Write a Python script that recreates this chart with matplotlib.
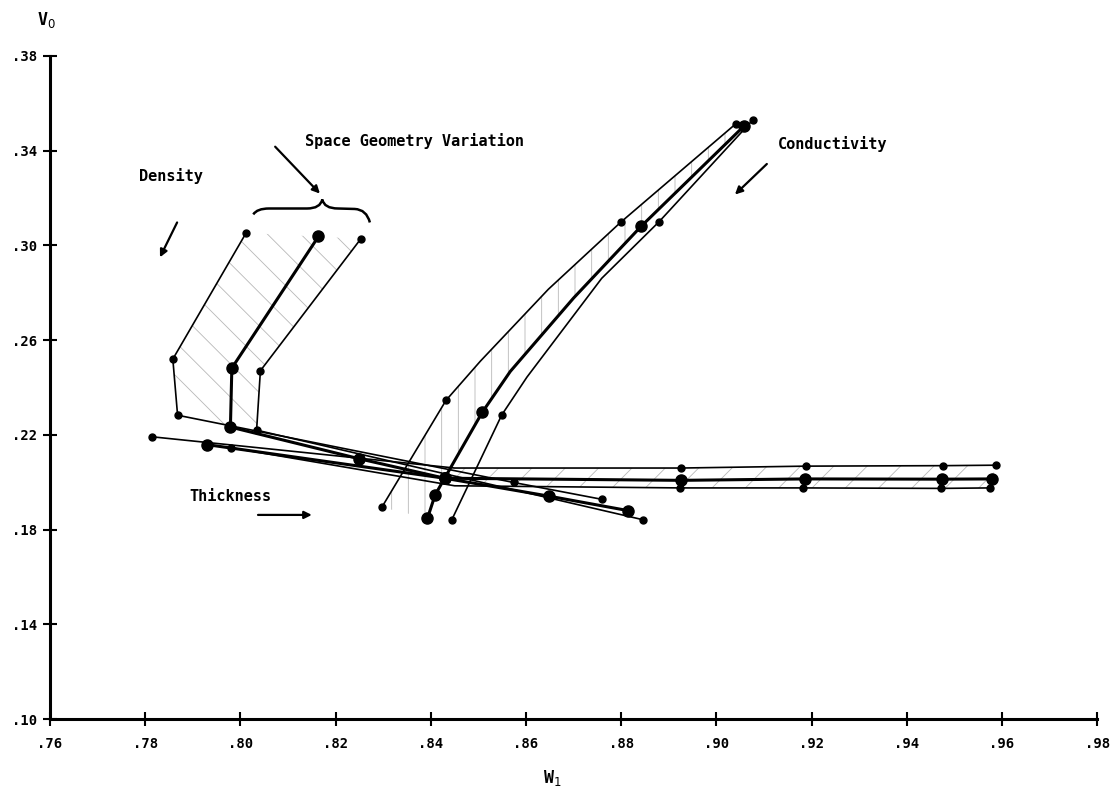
import numpy as np
import matplotlib.pyplot as plt
from matplotlib.path import Path
from matplotlib.patches import PathPatch, Polygon

# ---- data (W1 on x, V0 on y) ----
# density family: three space geometries
dens_a_w = [0.8012, 0.7858, 0.7868, 0.8574, 0.8759]
dens_a_v = [0.3053, 0.2520, 0.2283, 0.1999, 0.1928]
dens_b_w = [0.8164, 0.7982, 0.7979, 0.8250, 0.8429, 0.8649, 0.8815]
dens_b_v = [0.3038, 0.2482, 0.2233, 0.2099, 0.2017, 0.1941, 0.1880]
dens_c_w = [0.8253, 0.8042, 0.8034, 0.8845]
dens_c_v = [0.3028, 0.2471, 0.2220, 0.1842]

# thickness family
thick_a_w = [0.7814, 0.8450, 0.8926, 0.9189, 0.9476, 0.9587]
thick_a_v = [0.2192, 0.2060, 0.2060, 0.2068, 0.2070, 0.2072]
thick_b_w = [0.7929, 0.8429, 0.8926, 0.9186, 0.9474, 0.9579]
thick_b_v = [0.2159, 0.2017, 0.2008, 0.2014, 0.2013, 0.2014]
thick_c_w = [0.7980, 0.8450, 0.8924, 0.9183, 0.9472, 0.9574]
thick_c_v = [0.2146, 0.1985, 0.1976, 0.1976, 0.1974, 0.1976]

# conductivity family
cond_a_w = [0.8297, 0.8432, 0.8504, 0.8647, 0.8799, 0.9041]
cond_a_v = [0.1894, 0.2346, 0.2511, 0.2815, 0.3098, 0.3514]
cond_b_w = [0.8393, 0.8409, 0.8429, 0.8508, 0.8567, 0.8700, 0.8842, 0.9059]
cond_b_v = [0.1848, 0.1946, 0.2017, 0.2295, 0.2468, 0.2778, 0.3081, 0.3506]
cond_c_w = [0.8444, 0.8549, 0.8602, 0.8759, 0.8880, 0.9077]
cond_c_v = [0.1841, 0.2284, 0.2444, 0.2861, 0.3101, 0.3531]

x_ticks = [0.76, 0.78, 0.80, 0.82, 0.84, 0.86, 0.88, 0.90, 0.92, 0.94, 0.96, 0.98]
y_ticks = [0.10, 0.14, 0.18, 0.22, 0.26, 0.30, 0.34, 0.38]

MONO = 'DejaVu Sans Mono'
plt.rcParams['hatch.linewidth'] = 0.6

fig = plt.figure(figsize=(11.14, 8.08), dpi=100)
ax = fig.add_axes([0.0449, 0.1101, 0.9400, 0.8206])
ax.set_xlim(0.76, 0.98)
ax.set_ylim(0.10, 0.38)

# faint hatching inside the bands
hatch_kw = dict(facecolor='none', edgecolor='0.72', linewidth=0, zorder=1)
band = list(zip(cond_a_w, cond_a_v)) + list(zip(cond_b_w, cond_b_v))[::-1]
ax.add_patch(Polygon(band, hatch='|', **hatch_kw))
band = list(zip(dens_a_w[:3], dens_a_v[:3])) + list(zip(dens_c_w[:3], dens_c_v[:3]))[::-1]
ax.add_patch(Polygon(band, hatch='\\', **hatch_kw))
band = list(zip(thick_a_w[1:], thick_a_v[1:])) + list(zip(thick_c_w[1:], thick_c_v[1:]))[::-1]
ax.add_patch(Polygon(band, hatch='/', **hatch_kw))

thin = dict(color='black', lw=1.2, marker='o', ms=5, zorder=3)
thick = dict(color='black', lw=2.2, marker='o', ms=8, zorder=4)

ax.plot(dens_a_w, dens_a_v, **thin)
ax.plot(dens_b_w, dens_b_v, **thick)
ax.plot(dens_c_w, dens_c_v, **thin)

ax.plot(thick_a_w, thick_a_v, markevery=[0, 2, 3, 4, 5], **thin)
ax.plot(thick_b_w, thick_b_v, **thick)
ax.plot(thick_c_w, thick_c_v, markevery=[0, 2, 3, 4, 5], **thin)

ax.plot(cond_a_w, cond_a_v, markevery=[0, 1, 4, 5], **thin)
ax.plot(cond_b_w, cond_b_v, markevery=[0, 1, 2, 3, 6, 7], **thick)
ax.plot(cond_c_w, cond_c_v, markevery=[0, 1, 4, 5], **thin)

# annotations
txt = dict(fontfamily=MONO, fontweight='bold', fontsize=11, color='black')
ax.text(0.8136, 0.3443, 'Space Geometry Variation', ha='left', va='center', **txt)
ax.text(0.7854, 0.3294, 'Density', ha='center', va='center', **txt)
ax.text(0.9245, 0.3430, 'Conductivity', ha='center', va='center', **txt)
ax.text(0.7980, 0.1940, 'Thickness', ha='center', va='center', **txt)

arr = dict(arrowstyle='-|>', lw=1.6, color='black', mutation_scale=11, shrinkA=0, shrinkB=0)
ax.annotate('', xy=(0.8167, 0.3219), xytext=(0.8073, 0.3417), arrowprops=arr)
ax.annotate('', xy=(0.7831, 0.2950), xytext=(0.7867, 0.3097), arrowprops=arr)
ax.annotate('', xy=(0.9039, 0.3215), xytext=(0.9106, 0.3344), arrowprops=arr)
ax.annotate('', xy=(0.8150, 0.1862), xytext=(0.8037, 0.1862), arrowprops=arr)

# curly brace over the three density curves
brace = Path([(0.8027, 0.3131), (0.8035, 0.3156), (0.8060, 0.3156),
              (0.8140, 0.3156),
              (0.8168, 0.3156), (0.8172, 0.3194),
              (0.8176, 0.3156), (0.8205, 0.3156),
              (0.8240, 0.3154),
              (0.8265, 0.3152), (0.8272, 0.3097)],
             [Path.MOVETO, Path.CURVE3, Path.CURVE3, Path.LINETO,
              Path.CURVE3, Path.CURVE3, Path.CURVE3, Path.CURVE3,
              Path.LINETO, Path.CURVE3, Path.CURVE3])
ax.add_patch(PathPatch(brace, facecolor='none', edgecolor='black', lw=1.8))

# axes styling
for side in ['top', 'right']:
    ax.spines[side].set_visible(False)
for side in ['left', 'bottom']:
    ax.spines[side].set_linewidth(2.2)
ax.set_xticks(x_ticks)
ax.set_yticks(y_ticks)
ax.set_xticklabels(['.%02d' % round(t * 100) for t in x_ticks])
ax.set_yticklabels(['.%02d' % round(t * 100) for t in y_ticks])
ax.tick_params(direction='inout', length=10, width=1.5, labelsize=10)
ax.tick_params(axis='x', pad=8)
ax.tick_params(axis='y', pad=4)
for lab in ax.get_xticklabels() + ax.get_yticklabels():
    lab.set_fontfamily(MONO)
    lab.set_fontweight('bold')

ax.text(-0.003, 1.055, 'V$_0$', transform=ax.transAxes, ha='center', va='center',
        fontfamily=MONO, fontweight='bold', fontsize=12)
ax.text(0.480, -0.089, 'W$_1$', transform=ax.transAxes, ha='center', va='center',
        fontfamily=MONO, fontweight='bold', fontsize=12)

fig.savefig('out.png', dpi=100, facecolor='white')
